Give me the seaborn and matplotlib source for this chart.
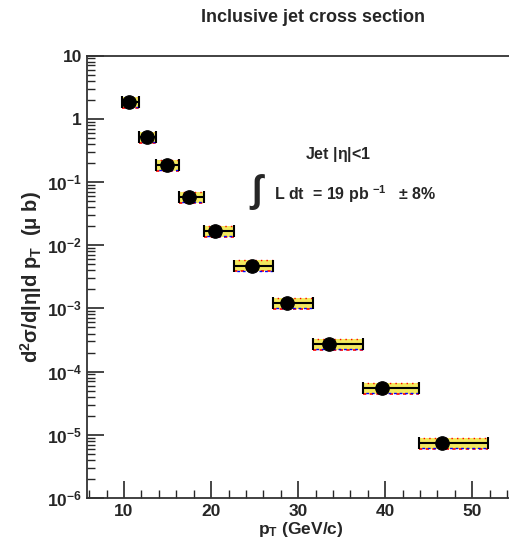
import numpy as np
import pandas as pd
import matplotlib
matplotlib.use('Agg')
import matplotlib.pyplot as plt
import matplotlib.ticker as mticker
import seaborn as sns

# inclusive jet cross section
pt = [10.57, 12.69, 14.94, 17.44, 20.5, 24.7, 28.67, 33.56, 39.65, 46.55]
xsec = [1.82, 0.51, 0.183, 0.057, 0.0167, 0.0047, 0.0012, 2.7e-4, 5.4e-5, 7.3e-6]
bin_lo = [9.8, 11.7, 13.7, 16.3, 19.2, 22.6, 27.1, 31.7, 37.4, 43.9]
bin_hi = [11.7, 13.7, 16.3, 19.2, 22.6, 27.1, 31.7, 37.4, 43.9, 51.8]
sys_up = [0.22, 0.22, 0.22, 0.22, 0.22, 0.22, 0.22, 0.22, 0.22, 0.22]
sys_dn = [0.18, 0.18, 0.18, 0.18, 0.18, 0.18, 0.18, 0.18, 0.18, 0.18]

df = pd.DataFrame({'pt': pt, 'xsec': xsec, 'lo': bin_lo, 'hi': bin_hi,
                   'up': sys_up, 'dn': sys_dn})

sns.set_style('ticks')
plt.rcParams['font.family'] = ['Liberation Sans', 'DejaVu Sans']
plt.rcParams['mathtext.fontset'] = 'custom'
plt.rcParams['mathtext.rm'] = 'Liberation Sans:bold'
plt.rcParams['mathtext.bf'] = 'Liberation Sans:bold'
plt.rcParams['mathtext.it'] = 'Liberation Sans:bold'
plt.rcParams['xtick.direction'] = 'in'
plt.rcParams['ytick.direction'] = 'in'

fig = plt.figure(figsize=(5.1, 5.49), dpi=100)
ax = fig.add_axes([87.5/510, 1-498/549, (514-87.5)/510, (498-55.5)/549])

# systematic bands
for _, r in df.iterrows():
    y0 = r.xsec*(1-r.dn)
    y1 = r.xsec*(1+r.up)
    ax.fill_between([r.lo, r.hi], y0, y1, color='#f2e640', alpha=0.85,
                    lw=0, zorder=1)
    ax.plot([r.lo, r.hi], [y0, y0], color='red', ls=(0, (2, 2)), lw=1.2, zorder=2)
    ax.plot([r.lo, r.hi], [y0*1.02, y0*1.02], color='blue', ls=(2, (2, 2)), lw=1.0, zorder=2)
    ax.plot([r.lo, r.hi], [y1, y1], color='red', ls=(1, (1, 3)), lw=1.0, zorder=2)

ax.errorbar(df.pt, df.xsec,
            xerr=[df.pt-df.lo, df.hi-df.pt],
            yerr=[df.xsec*0.08, df.xsec*0.08],
            fmt='none', ecolor='black', elinewidth=1.5, capsize=4, capthick=1.5,
            zorder=3)
sns.scatterplot(data=df, x='pt', y='xsec', ax=ax, color='black', s=95,
                edgecolor='black', zorder=4, legend=False)

ax.set_yscale('log')
ax.set_xlim(5.8, 54.8)
ax.set_ylim(1e-6, 10)

ax.xaxis.set_major_locator(mticker.MultipleLocator(10))
ax.xaxis.set_minor_locator(mticker.MultipleLocator(2))
ax.yaxis.set_major_locator(mticker.LogLocator(base=10, numticks=10))
ax.yaxis.set_minor_locator(mticker.LogLocator(base=10, subs=np.arange(2, 10), numticks=20))
ax.yaxis.set_minor_formatter(mticker.NullFormatter())

def yfmt(v, pos):
    e = int(round(np.log10(v)))
    if e == 0:
        return '1'
    if e == 1:
        return '10'
    return r'$\mathbf{10^{%d}}$' % e

ax.yaxis.set_major_formatter(mticker.FuncFormatter(yfmt))

ax.tick_params(axis='both', which='major', direction='in', length=12, width=1.2,
               labelsize=12.5, pad=4)
ax.tick_params(axis='both', which='minor', direction='in', length=6, width=1.0)
ax.tick_params(top=False, right=False, which='both')
for lab in ax.get_xticklabels() + ax.get_yticklabels():
    lab.set_fontweight('bold')
for sp in ax.spines.values():
    sp.set_linewidth(1.3)
    sp.set_color('#333333')

ax.set_xlabel(r'$\mathbf{p_{T}}$ (GeV/c)', fontsize=12.5, fontweight='bold', labelpad=1)
ax.set_ylabel(r'$\mathbf{d^{2}\sigma/d|\eta|d\ p_{T}}$  ($\mathbf{\mu}$ b)', fontsize=14.5,
              fontweight='bold', labelpad=2)

fig.text(313/510, 1-17/549, 'Inclusive jet cross section', ha='center', va='center',
         fontsize=13, fontweight='bold')
fig.text(338/510, 1-155/549, r'Jet |$\mathbf{\eta}$|<1', ha='center', va='center',
         fontsize=11.5, fontweight='bold')
fig.text(249/510, 1-192/549, r'$\int$', ha='left', va='center', fontsize=27,
         family='DejaVu Sans')
fig.text(274/510, 1-194/549, r'L dt  = 19 pb $^{\mathbf{-1}}$', ha='left', va='center',
         fontsize=11.5, fontweight='bold')
fig.text(398/510, 1-194/549, r'$\pm$ 8%', ha='left', va='center',
         fontsize=11.5, fontweight='bold')

fig.savefig('out.png', dpi=100)
